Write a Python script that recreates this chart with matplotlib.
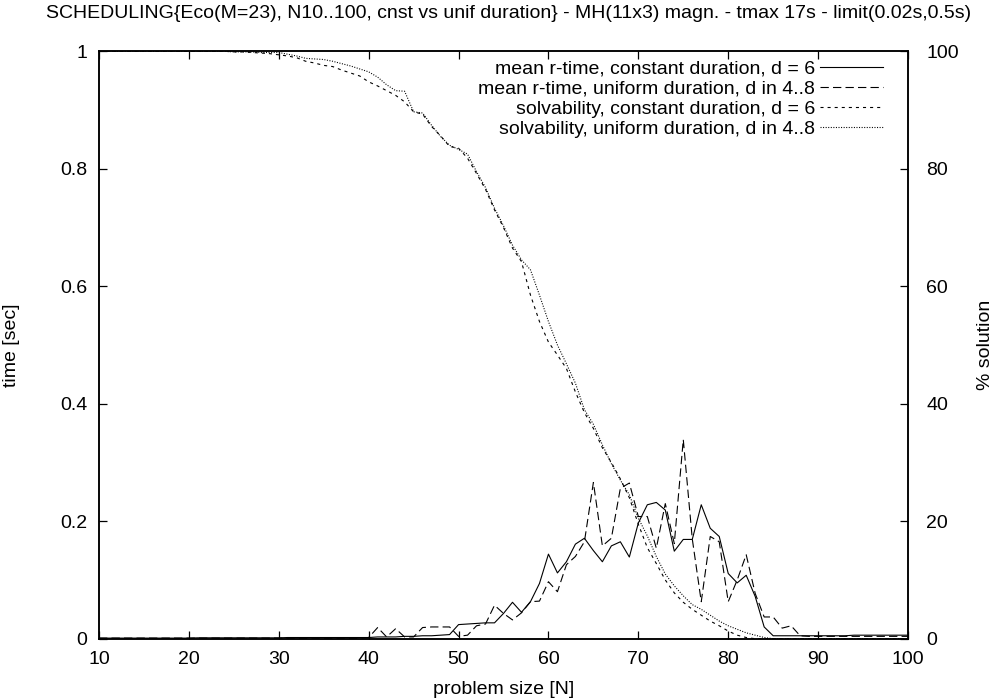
import matplotlib
matplotlib.use("Agg")
import matplotlib.pyplot as plt
import numpy as np

plt.rcParams['font.family'] = ['Liberation Sans', 'DejaVu Sans']
plt.rcParams['lines.scale_dashes'] = False

N = list(range(10, 101))

# mean r-time [sec], constant duration d = 6
time_const = ([0.001] * 11 + [0.0015] * 10 + [0.002] * 9 +
              [0.002, 0.003, 0.003, 0.003, 0.004, 0.004, 0.005, 0.005, 0.006, 0.007,
               0.024, 0.025, 0.026, 0.027, 0.027, 0.043, 0.062, 0.045, 0.063, 0.094,
               0.144, 0.112, 0.131, 0.161, 0.171, 0.150, 0.131, 0.158, 0.165, 0.139,
               0.197, 0.228, 0.232, 0.219, 0.149, 0.169, 0.169, 0.228, 0.188, 0.174,
               0.111, 0.095, 0.108, 0.072, 0.020, 0.005, 0.005, 0.005, 0.005, 0.005,
               0.005, 0.005, 0.005, 0.005, 0.006, 0.006, 0.006, 0.006, 0.006, 0.006,
               0.006])

# mean r-time [sec], uniform duration d in 4..8
time_unif = ([0.001] * 30 +
             [0.002, 0.019, 0.003, 0.017, 0.003, 0.003, 0.019, 0.020, 0.020, 0.020,
              0.004, 0.006, 0.022, 0.025, 0.057, 0.043, 0.032, 0.044, 0.063, 0.064,
              0.097, 0.080, 0.126, 0.140, 0.165, 0.266, 0.158, 0.171, 0.256, 0.265,
              0.208, 0.208, 0.154, 0.230, 0.162, 0.339, 0.170, 0.063, 0.174, 0.165,
              0.063, 0.100, 0.143, 0.077, 0.037, 0.037, 0.018, 0.022, 0.005, 0.004,
              0.004, 0.004, 0.004, 0.004, 0.004, 0.004, 0.004, 0.004, 0.004, 0.004,
              0.004])

# solvability [%], constant duration d = 6
solv_const = ([100.0] * 15 +
              [99.9, 99.9, 99.8, 99.7, 99.6, 99.4, 99.2, 98.9, 98.3, 98.0,
               97.6, 97.4, 96.8, 96.3, 95.8, 94.8, 94.1, 93.3, 92.5, 91.4,
               89.7, 89.3, 87.2, 85.6, 83.8, 83.5, 81.8, 79.2, 76.5, 73.0,
               70.0, 66.5, 64.2, 58.5, 54.0, 50.5, 48.3, 46.0, 42.0, 38.5,
               35.8, 32.5, 30.0, 27.2, 24.0, 19.5, 15.5, 12.8, 10.0, 7.8,
               6.2, 5.0, 4.0, 3.0, 2.2, 1.3, 0.6, 0.2] + [0.0] * 18)

# solvability [%], uniform duration d in 4..8
solv_unif = ([100.0] * 15 +
             [99.9, 99.9, 99.9, 99.8, 99.8, 99.8, 99.5, 99.2, 98.8, 98.7,
              98.6, 98.3, 97.9, 97.5, 97.0, 96.5, 95.6, 94.3, 93.3, 93.2,
              89.7, 89.5, 87.4, 85.5, 84.0, 83.3, 82.5, 79.5, 76.8, 73.3,
              70.3, 67.0, 64.5, 62.8, 58.5, 54.0, 50.0, 46.8, 43.5, 39.0,
              36.5, 33.0, 29.8, 27.0, 24.5, 20.5, 17.5, 14.0, 11.0, 9.0,
              7.3, 5.8, 5.0, 4.0, 3.0, 2.2, 1.6, 1.0, 0.6, 0.2] + [0.0] * 16)

labels = ["mean r-time, constant duration, d = 6",
          "mean r-time, uniform duration, d in 4..8",
          "solvability, constant duration, d = 6",
          "solvability, uniform duration, d in 4..8"]

title = ("SCHEDULING{Eco(M=23), N10..100, cnst vs unif duration} - MH(11x3) magn. "
         "- tmax 17s - limit(0.02s,0.5s)")

FS = 14
FSPX = FS * 100 / 72
W, H = 999, 700
fig = plt.figure(figsize=(W / 100, H / 100), dpi=100)
ax = fig.add_axes([99 / W, (H - 638.7) / H, 809 / W, 587.4 / H])
ax2 = ax.twinx()

lw = 0.8
l1, = ax.plot(N, time_const, color='black', lw=lw, linestyle='-')
l2, = ax.plot(N, time_unif, color='black', lw=lw, linestyle=(0, (6.0, 3.0)))
l3, = ax2.plot(N, solv_const, color='black', lw=lw, linestyle=(0, (2.2, 2.9)))
l4, = ax2.plot(N, solv_unif, color='black', lw=lw, linestyle=(0, (0.75, 1.1)))

ax.set_xlim(10, 100)
ax.set_ylim(0, 1)
ax2.set_ylim(0, 100)
ax.set_xticks(range(10, 101, 10))
ax.set_yticks([0, 0.2, 0.4, 0.6, 0.8, 1.0])
ax.set_yticklabels(["0", "0.2", "0.4", "0.6", "0.8", "1"])
ax2.set_yticks(range(0, 101, 20))

for a in (ax, ax2):
    for s in a.spines.values():
        s.set_linewidth(1.1)
ax.tick_params(axis='x', direction='in', length=5.8, width=0.9, top=True,
               labelsize=FS, pad=8.5)
ax.tick_params(axis='y', direction='in', length=5.8, width=0.9, right=False,
               labelsize=FS, pad=8.5)
ax2.tick_params(axis='y', direction='in', length=5.8, width=0.9,
                labelsize=FS, pad=13)

ax.set_xlabel("problem size [N]", fontsize=FS)
ax.set_ylabel("time [sec]", fontsize=FS)
ax2.set_ylabel("% solution", fontsize=FS)
ax.xaxis.set_label_coords(0.5, (638.7 - 689) / 587.4)
ax.yaxis.set_label_coords((12 - 99) / 809, 0.5)
ax2.yaxis.set_label_coords((986 - 99) / 809, 0.5)
ax.xaxis.label.set_va('center')
ax.yaxis.label.set_va('center')
ax2.yaxis.label.set_va('center')

fig.text(509 / W, 1 - 14 / H, title, ha='center', va='center', fontsize=FS)

leg = ax2.legend([l1, l2, l3, l4], labels, loc='upper right',
                 bbox_to_anchor=((883 - 99) / 809, (638.7 - 60) / 587.4),
                 frameon=False, markerfirst=False, fontsize=FS,
                 handlelength=63 / FSPX, handletextpad=5 / FSPX,
                 labelspacing=0.13, borderpad=0, borderaxespad=0)

fig.savefig("out.png", dpi=100)
